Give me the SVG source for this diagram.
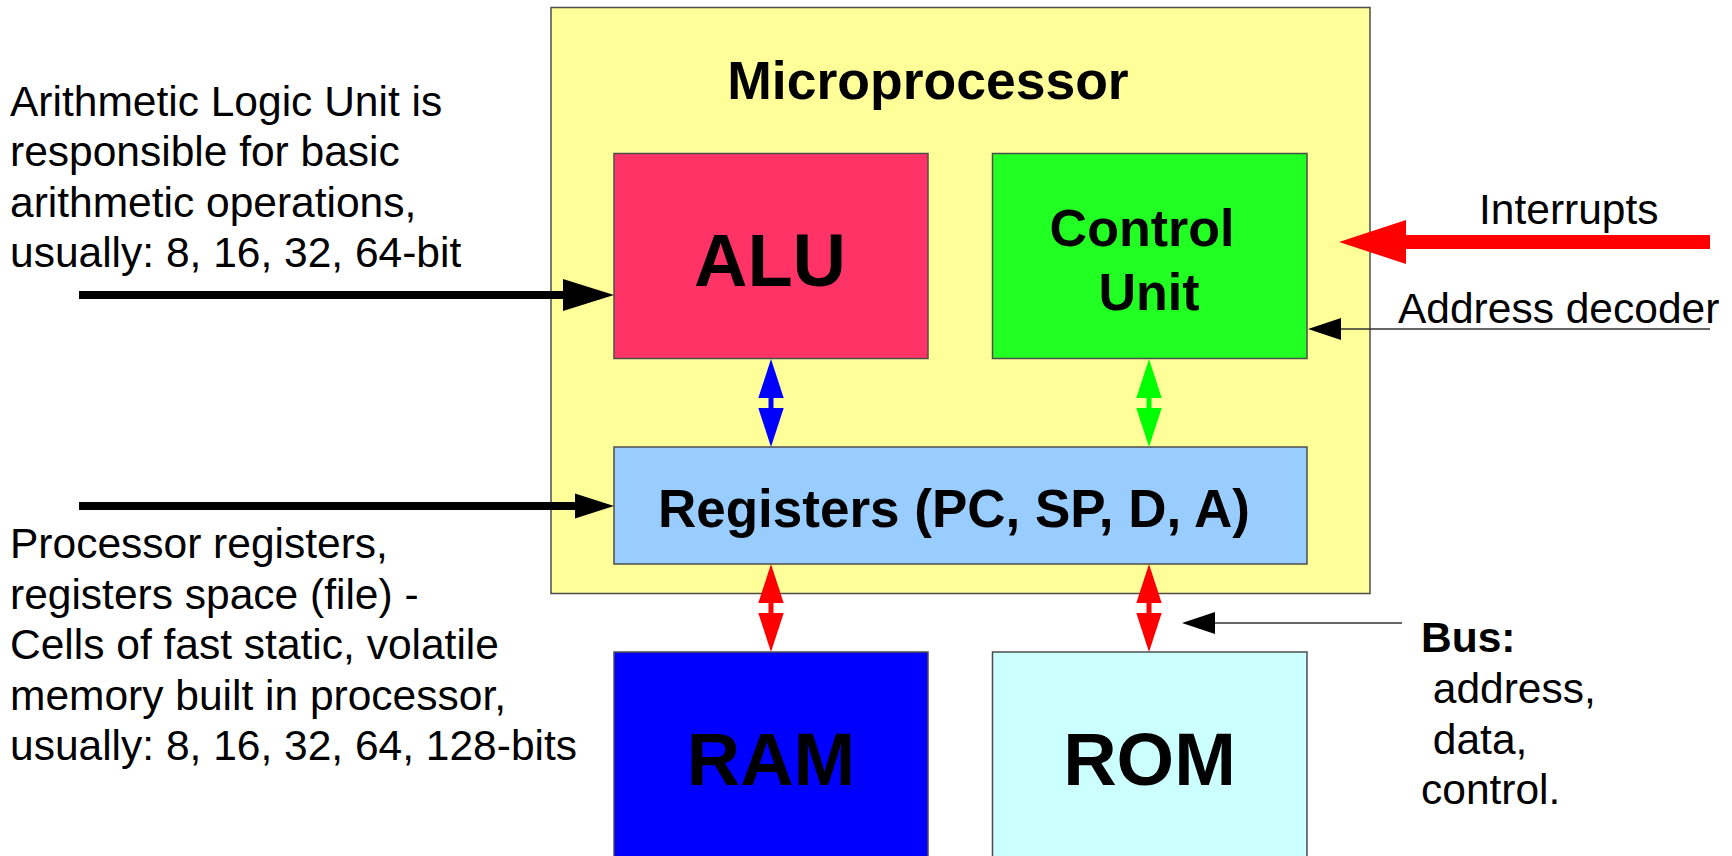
<svg xmlns="http://www.w3.org/2000/svg" width="1732" height="856" viewBox="0 0 1732 856">
  <style>
    .box { stroke: #4d4d4d; stroke-width: 1.5; }
    .big { font-family: "Liberation Sans", Arial, sans-serif; font-weight: bold; fill: #000; text-anchor: middle; }
    .note { font-family: "Liberation Sans", Arial, sans-serif; font-size: 42.5px; fill: #000; }
    .thin { stroke: #333; stroke-width: 1.5; fill: none; }
  </style>
  <rect width="1732" height="856" fill="#ffffff"/>

  <!-- CPU enclosure -->
  <g id="microprocessor">
    <rect class="box" x="551" y="7.5" width="819" height="586" fill="#ffff99"/>
    <text class="big" x="928" y="99" font-size="53.5">Microprocessor</text>
  </g>

  <g id="alu">
    <rect class="box" x="614" y="153.5" width="314" height="205" fill="#ff3366"/>
    <text class="big" x="770" y="286" font-size="74">ALU</text>
  </g>

  <g id="control-unit">
    <rect class="box" x="992.5" y="153.5" width="314.5" height="205" fill="#22ff22"/>
    <text class="big" x="1142" y="246" font-size="52">Control</text>
    <text class="big" x="1149" y="310" font-size="52">Unit</text>
  </g>

  <g id="registers">
    <rect class="box" x="614" y="447" width="693" height="117" fill="#99ccff"/>
    <text class="big" x="954" y="527" font-size="53">Registers (PC, SP, D, A)</text>
  </g>

  <g id="ram">
    <rect class="box" x="614" y="652" width="314" height="210" fill="#0000ff"/>
    <text class="big" x="771" y="785" font-size="74">RAM</text>
  </g>

  <g id="rom">
    <rect class="box" x="992.5" y="652" width="314.5" height="210" fill="#ccffff"/>
    <text class="big" x="1149.5" y="785" font-size="74">ROM</text>
  </g>

  <!-- Side notes -->
  <g id="alu-note">
    <text class="note" x="10" y="115.5">Arithmetic Logic Unit is</text>
    <text class="note" x="10" y="166">responsible for basic</text>
    <text class="note" x="10" y="216.5">arithmetic operations,</text>
    <text class="note" x="10" y="267">usually: 8, 16, 32, 64-bit</text>
  </g>

  <g id="registers-note">
    <text class="note" x="10" y="558">Processor registers,</text>
    <text class="note" x="10" y="608.5">registers space (file) -</text>
    <text class="note" x="10" y="659">Cells of fast static, volatile</text>
    <text class="note" x="10" y="709.5">memory built in processor,</text>
    <text class="note" x="10" y="760">usually: 8, 16, 32, 64, 128-bits</text>
  </g>

  <g id="interrupts-label">
    <text class="note" x="1479" y="224">Interrupts</text>
  </g>

  <g id="address-decoder-label">
    <text class="note" x="1398" y="323">Address decoder</text>
  </g>

  <g id="bus-label">
    <text class="note" x="1421" y="652" font-weight="bold">Bus:</text>
    <text class="note" x="1421" y="703" xml:space="preserve"> address,</text>
    <text class="note" x="1421" y="753.5" xml:space="preserve"> data,</text>
    <text class="note" x="1421" y="804">control.</text>
  </g>

  <!-- Connectors -->
  <g id="connectors">
    <!-- input into ALU -->
    <line x1="79" y1="295" x2="566" y2="295" stroke="#000" stroke-width="8"/>
    <polygon points="563,279 614,295 563,311" fill="#000"/>

    <!-- input into registers -->
    <line x1="79" y1="506" x2="578" y2="506" stroke="#000" stroke-width="8"/>
    <polygon points="575,493.5 614,506 575,518.5" fill="#000"/>

    <!-- interrupts -->
    <line x1="1710" y1="242" x2="1400" y2="242" stroke="#ff0000" stroke-width="14"/>
    <polygon points="1406,220 1339,242 1406,264" fill="#ff0000"/>

    <!-- address decoder -->
    <line class="thin" x1="1710" y1="329" x2="1338" y2="329"/>
    <polygon points="1341,318 1308,329 1341,340" fill="#000"/>

    <!-- bus pointer -->
    <line class="thin" x1="1402" y1="623" x2="1212" y2="623"/>
    <polygon points="1215,612 1182,623 1215,634" fill="#000"/>

    <!-- ALU <-> registers -->
    <g fill="#0000ff">
      <rect x="768.5" y="396" width="5" height="14"/>
      <polygon points="771,359 783.7,398 758.3,398"/>
      <polygon points="758.3,408 783.7,408 771,447"/>
    </g>

    <!-- control unit <-> registers -->
    <g fill="#00ff00">
      <rect x="1146.5" y="396" width="5" height="14"/>
      <polygon points="1149,359 1161.7,398 1136.3,398"/>
      <polygon points="1136.3,408 1161.7,408 1149,447"/>
    </g>

    <!-- registers <-> RAM -->
    <g fill="#ff0000">
      <rect x="768.5" y="601" width="5" height="14"/>
      <polygon points="771,564 783.7,603 758.3,603"/>
      <polygon points="758.3,613 783.7,613 771,652"/>
    </g>

    <!-- registers <-> ROM -->
    <g fill="#ff0000">
      <rect x="1146.5" y="601" width="5" height="14"/>
      <polygon points="1149,564 1161.7,603 1136.3,603"/>
      <polygon points="1136.3,613 1161.7,613 1149,652"/>
    </g>
  </g>
</svg>
